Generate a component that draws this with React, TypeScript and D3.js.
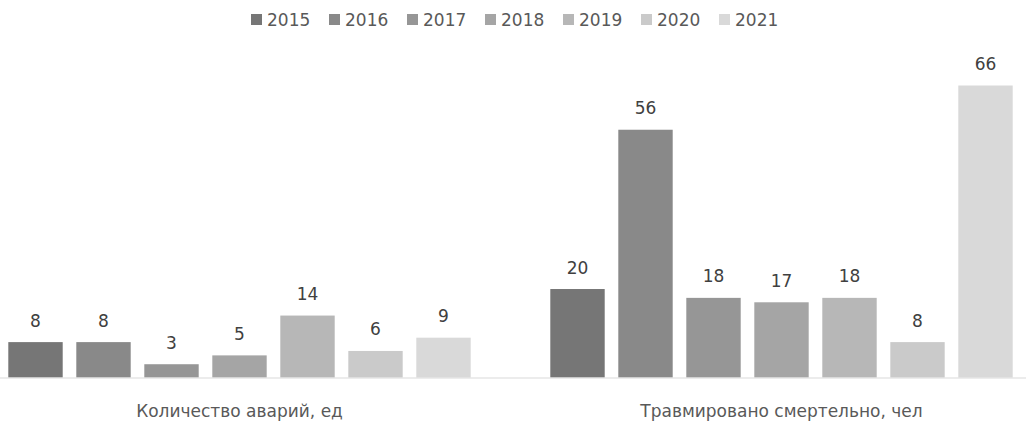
import React from "react";
import * as d3 from "d3";

const categories = ["Количество аварий, ед", "Травмировано смертельно, чел"];
const years = ["2015", "2016", "2017", "2018", "2019", "2020", "2021"];
const accidents = [8, 8, 3, 5, 14, 6, 9];
const fatalities = [20, 56, 18, 17, 18, 8, 66];
const colors = ["#767676", "#898989", "#969696", "#a5a5a5", "#b7b7b7", "#cacaca", "#d9d9d9"];

const W = 1026;
const H = 423;
const baseY = 377.5;
const topY = 85.5;
const FONT = "'DejaVu Sans', sans-serif";

export default function App() {
  const seriesByCat = [accidents, fatalities];
  const x0 = d3.scaleBand<string>().domain(categories).range([-31.5, 1052.5]);
  const groupW = 476;
  const x1 = d3
    .scaleBand<string>()
    .domain(years)
    .range([0, groupW])
    .paddingInner(0.2)
    .paddingOuter(0.1);
  const y = d3.scaleLinear().domain([0, 66]).range([baseY, topY]);
  const legendX = d3.scaleBand<string>().domain(years).range([251, 251 + 78 * 7]);

  return (
    <svg width={W} height={H} style={{ position: "absolute", left: 0, top: 0, background: "#fff" }}>
      <g fontFamily={FONT} fill="#595959">
        {years.map((yr, i) => (
          <g key={yr} transform={`translate(${legendX(yr)},0)`}>
            <rect x={0} y={14} width={11} height={11} fill={colors[i]} />
            <text x={16} y={26} fontSize={17} fill="#595959">
              {yr}
            </text>
          </g>
        ))}
      </g>
      {categories.map((cat, ci) => {
        const cx = (x0(cat) as number) + x0.bandwidth() / 2;
        const gx = cx - groupW / 2;
        return (
          <g key={cat}>
            {years.map((yr, i) => {
              const v = seriesByCat[ci][i];
              const bx = gx + (x1(yr) as number);
              const by = y(v);
              return (
                <g key={yr}>
                  <rect x={bx} y={by} width={x1.bandwidth()} height={baseY - by} fill={colors[i]} />
                  <text
                    x={bx + x1.bandwidth() / 2}
                    y={by - 15.5}
                    textAnchor="middle"
                    fontFamily={FONT}
                    fontSize={17}
                    fill="#404040"
                  >
                    {v}
                  </text>
                </g>
              );
            })}
            <text x={cx} y={417} textAnchor="middle" fontFamily={FONT} fontSize={17} fill="#595959">
              {cat}
            </text>
          </g>
        );
      })}
      <line x1={0} x2={W} y1={baseY + 0.5} y2={baseY + 0.5} stroke="#d9d9d9" strokeWidth={1} />
    </svg>
  );
}
